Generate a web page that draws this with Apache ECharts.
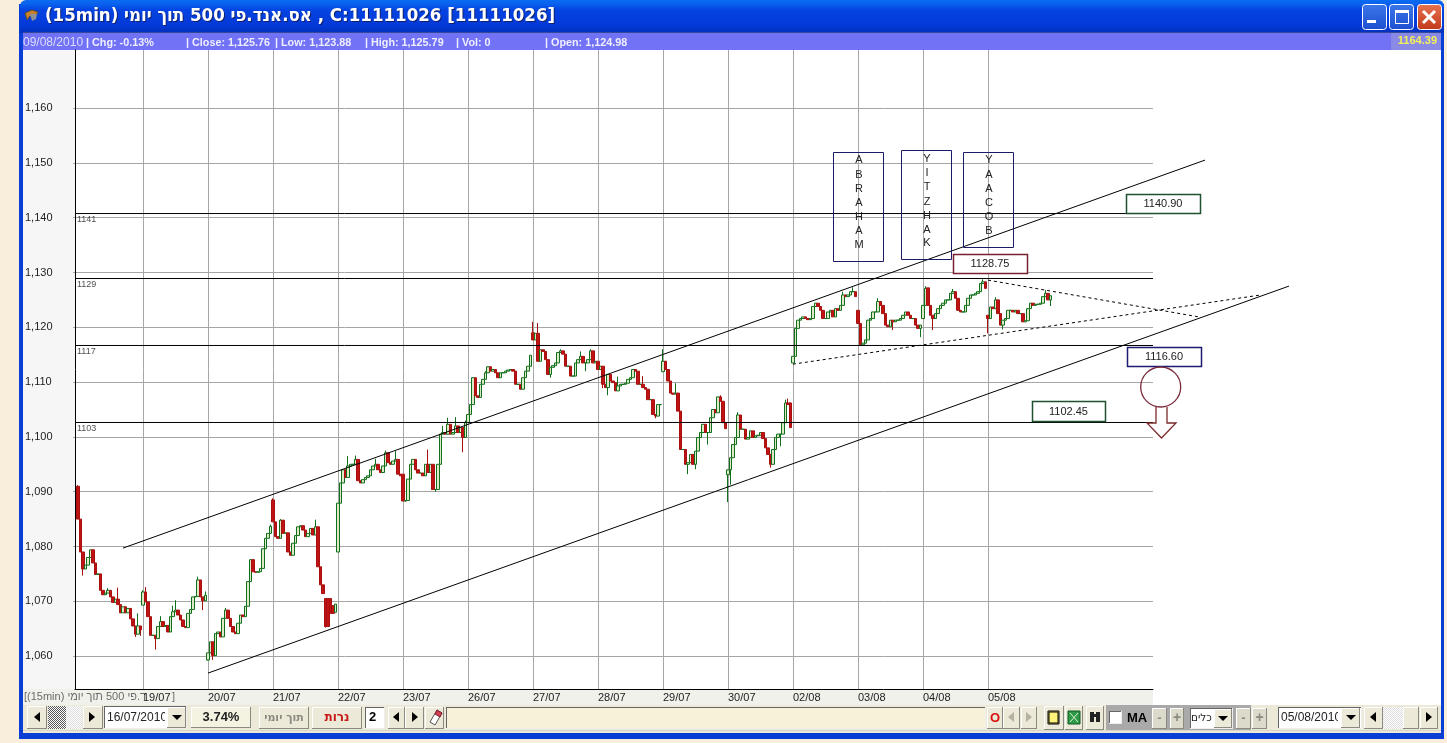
<!DOCTYPE html>
<html><head><meta charset="utf-8">
<style>html,body{margin:0;padding:0;background:#f8eedb}#c{width:1447px;height:743px}</style>
<script src="https://cdn.jsdelivr.net/npm/echarts@6/dist/echarts.min.js"></script>
</head><body><div id="c"></div>
<script>
// ---------- DATA ----------
const dayLabels = ['19/07','20/07','21/07','22/07','23/07','26/07','27/07','28/07','29/07','30/07','02/08','03/08','04/08','05/08'];
const dayTicks = [26,52,78,104,130,156,182,208,234,260,286,312,338,364];
const yTicks = [1060,1070,1080,1090,1100,1110,1120,1130,1140,1150,1160];
const yTickLabels = ['1,060','1,070','1,080','1,090','1,100','1,110','1,120','1,130','1,140','1,150','1,160'];

const closes = [
 // 16/07
 1085,1079,1075.9,1076.6,1078,1079.4,1077,1074.9,1075,1072,1071.2,1071.5,1072,1070.8,1069.8,1070.4,1069.4,1067.9,1069,1067.9,1068.7,1066.8,1065.5,1064,1065.5,1064.8,
 // 19/07
 1071.7,1069.9,1067.2,1063.8,1063.8,1063.2,1065.4,1066.3,1065.4,1065.6,1064.4,1067.2,1068.1,1068.4,1067.5,1066.6,1065.4,1065.2,1067.8,1068.5,1070.8,1070.9,1073.9,1070.8,1070.1,1071.1,
 // 20/07
 1060.6,1062.6,1060.1,1064.1,1064.4,1063.5,1066.9,1068.4,1066.9,1065.4,1064.4,1064.1,1066,1067.5,1067.2,1069.1,1073.6,1077.6,1075.4,1075.3,1075.4,1076,1079.6,1081.5,1082.4,1083.7,
 // 21/07
 1084.5,1081.8,1081.5,1084.8,1082.4,1082.5,1079,1078.4,1080.6,1082,1083.6,1083.8,1083,1081.8,1082.4,1083.3,1082.1,1083.6,1076.3,1073,1071.4,1065.4,1065.4,1067.8,1067.8,1069.5,
 // 22/07
 1087.9,1091.6,1094,1092.6,1094.7,1095,1095,1095.9,1092,1091.6,1092.2,1092.6,1092.9,1094,1094.7,1095,1094,1093.5,1094.7,1097.1,1095.3,1095,1095.6,1095.9,1093.2,1092.9,
 // 23/07
 1088.3,1088.4,1092.3,1095,1095.9,1094,1093.4,1093.4,1092.9,1095,1093.5,1095,1090.4,1090.4,1095,1100.5,1100.8,1100.5,1102.3,1100.5,1100.8,1102,1100.8,1101.7,1099.9,1102.6,
 // 26/07
 1104.1,1105.9,1110.8,1107.5,1107.2,1109.6,1110.5,1111.7,1112.8,1112,1112.3,1111.7,1110.8,1111.7,1111.7,1112,1112.2,1112.3,1112,1109.6,1109.6,1108.7,1110.8,1112,1112.9,1114.9,
 // 27/07
 1117.7,1118.9,1113.8,1115.9,1115.6,1114.1,1111.4,1112.7,1113,1113.5,1115.4,1115.7,1115.1,1112.9,1112.9,1111.1,1111.1,1113.5,1114.1,1114.7,1113.5,1113.5,1114.1,1115.7,1113.5,1113.8,
 // 28/07
 1112.3,1112.9,1109.6,1109,1111.4,1110.2,1109.9,1108.4,1109.3,1109.6,1109.6,1109.8,1110.5,1110.8,1112.3,1112,1109.6,1109.6,1109,1108.7,1106.8,1106.8,1104.1,1103.8,1105.9,1105.9,
 // 29/07
 1113.8,1112.3,1110.2,1108,1107.8,1108,1104.7,1097.7,1097.7,1095,1095.3,1096.8,1095,1097.4,1099.9,1100.8,1102.3,1100.8,1100.8,1103.5,1105,1104.4,1107.3,1106.5,1102.6,1101.5,
 // 30/07
 1094,1096.2,1098.6,1099.9,1104,1101.4,1101.4,1099.6,1099.9,1101.1,1099.9,1100.2,1100.3,1100.8,1099.7,1098,1096.8,1095,1097.7,1099.9,1100.5,1100.5,1102.6,1106.2,1105.9,1101.7,
 // 02/08
 1114.7,1119.8,1121.3,1121.6,1121.9,1121.6,1121.4,1121.6,1123.8,1124.4,1123.8,1123.1,1121.6,1121.6,1122.8,1123.1,1121.9,1123.4,1123.1,1124,1125.9,1125.6,1125.9,1126.5,1126.5,1125.6,
 // 03/08
 1120.7,1116.8,1117.1,1117.7,1121.3,1121.6,1122.8,1122.8,1124.7,1124,1122.5,1120.4,1120.1,1121.3,1121,1121.3,1121.3,1121.6,1122.2,1122.8,1122.2,1121.6,1121.6,1120.4,1119.8,1120.4,
 // 04/08
 1124,1127.1,1124,1122.2,1121.6,1122.5,1123.4,1124,1124.4,1125,1125,1126.2,1126.5,1125.3,1123.1,1122.8,1122.8,1124,1125.3,1125.9,1125.9,1126.2,1126.5,1128,1128.3,1127.1,
 // 05/08
 1121.6,1123.7,1123.4,1125,1122.5,1120.4,1121.3,1121.6,1123.1,1123.1,1122.8,1123.1,1122.5,1122.5,1121,1121.2,1123.4,1124.4,1124,1124.2,1124.2,1124.4,1125.6,1126.2,1125,1125.76
];
// opens that differ from the previous close: [bar, open]
const gapOpens = [[0,1091],[26,1069.3],[52,1059.3],[78,1088.5],[99,1070.5],[100,1070.5],[101,1070.5],[102,1069.2],[103,1068],[104,1079],[130,1093.2],[182,1119],[234,1111.9],[284,1106.2],[285,1106.2],[260,1093.1],[286,1113.5],[312,1123.1],[338,1121.6],[340,1127.2],[364,1122.2],[389,1124.98]];
// wick tips: [bar, value]
const highTips = [[0,1091.2],[12,1072.4],[16,1072.5],[24,1067.8],[26,1072],[27,1072.6],[33,1067.3],[38,1069.2],[39,1070.2],[48,1074.5],[51,1071.8],[59,1068.8],[77,1084],[78,1088.8],[81,1085],[95,1084.9],[108,1096.5],[111,1096.6],[119,1096],[123,1097.5],[127,1097.4],[140,1097.7],[146,1102],[148,1103.5],[151,1103.6],[155,1103],[163,1112],[182,1121],[184,1120.8],[193,1116],[201,1115.6],[205,1116],[216,1111],[226,1111.1],[234,1116],[239,1109.8],[257,1107.6],[264,1104.5],[283,1106.8],[284,1107],[306,1126.5],[310,1127.3],[320,1125.3],[339,1127.5],[350,1127],[362,1128.75],[367,1125.5],[387,1126.8],[389,1125.79]];
const lowTips = [[2,1074.7],[23,1063.5],[25,1063.7],[31,1061.2],[50,1068.4],[52,1059.2],[54,1059.3],[99,1065.2],[131,1088.2],[143,1090],[154,1097.2],[189,1110.8],[203,1112],[210,1108.9],[212,1107.6],[231,1103.4],[244,1093.2],[247,1094.1],[252,1098.6],[260,1088.1],[261,1091.3],[277,1094.4],[281,1098.3],[313,1116.6],[326,1119.5],[337,1118.2],[342,1119.5],[364,1118.9],[370,1119.6],[389,1123.88]];

const upperChannel = [[18,1079.71],[450.8,1150.51]];
const lowerChannel = [[52,1056.9],[484.4,1127.52]];
const triangleLow = [[286,1113.28],[472.8,1125.88]];
const triangleHigh = [[364,1128.61],[448.8,1121.86]];
const levels = [1140.76,1128.9,1116.68,1102.63];
const levelNames = ['1141','1129','1117','1103'];
const xMin = -1.2, xMax = 430, xMaxTrend = 484.8, yMin = 1054, yMax = 1170.6;

// ---------- candles ----------
const gapMap = new Map(gapOpens), hiMap = new Map(highTips), loMap = new Map(lowTips);
const candles = closes.map((c,i)=>{
  const o = gapMap.has(i) ? gapMap.get(i) : closes[i-1];
  const h = hiMap.has(i) ? hiMap.get(i) : Math.max(o,c);
  const l = loMap.has(i) ? loMap.get(i) : Math.min(o,c);
  return [i,o,c,l,h];
});

// ---------- window furniture ----------
const FONT='"Liberation Sans",Arial,sans-serif';
const g=[];
const rect=(x,y,w,h,fill,stroke,z,r)=>g.push({type:'rect',silent:true,z:z??-1,shape:{x,y,width:w,height:h,r:r||0},style:{fill:fill||'none',stroke:stroke||null,lineWidth:1}});
const line=(x1,y1,x2,y2,c,z,lw)=>g.push({type:'line',silent:true,z:z??-1,shape:{x1,y1,x2,y2},style:{stroke:c,lineWidth:lw||1}});
const text=(x,y,t,fill,font,align,z)=>g.push({type:'text',silent:true,z:z??-1,x,y,style:{text:t,fill,font,align:align||'left',verticalAlign:'middle'}});
const poly=(pts,fill,stroke,z)=>g.push({type:'polygon',silent:true,z:z??-1,shape:{points:pts},style:{fill:fill||'none',stroke:stroke||null,lineWidth:1}});
const pline=(pts,stroke,z,lw)=>g.push({type:'polyline',silent:true,z:z??-1,shape:{points:pts},style:{fill:'none',stroke,lineWidth:lw||1}});
const btn=(x,y,w,h,fill)=>{rect(x,y,w,h,fill||'#ece9d8');line(x+.5,y+.5,x+w,y+.5,'#fff');line(x+.5,y+.5,x+.5,y+h,'#fff');line(x,y+h-.5,x+w,y+h-.5,'#8a8a80');line(x+w-.5,y,x+w-.5,y+h,'#8a8a80');};
const sunk=(x,y,w,h,fill)=>{rect(x,y,w,h,fill||'#fff');line(x,y+.5,x+w,y+.5,'#666');line(x+.5,y,x+.5,y+h,'#666');line(x,y+h-.5,x+w,y+h-.5,'#eee');line(x+w-.5,y,x+w-.5,y+h,'#eee');};
const tri=(cx,cy,dir,c)=>poly(dir<0?[[cx+3,cy-5],[cx+3,cy+5],[cx-3,cy]]:[[cx-3,cy-5],[cx-3,cy+5],[cx+3,cy]],c||'#000');
const LG=(stops)=>new echarts.graphic.LinearGradient(0,0,0,1,stops.map(([offset,color])=>({offset,color})));
const chk=document.createElement('canvas');chk.width=chk.height=2;{const k=chk.getContext('2d');k.fillStyle='#fff';k.fillRect(0,0,2,2);k.fillStyle='#555';k.fillRect(0,0,1,1);k.fillRect(1,1,1,1);}
const chkL=document.createElement('canvas');chkL.width=chkL.height=2;{const k=chkL.getContext('2d');k.fillStyle='#fff';k.fillRect(0,0,2,2);k.fillStyle='#ddd';k.fillRect(0,0,1,1);k.fillRect(1,1,1,1);}
const pat=c=>({image:c,repeat:'repeat'});

// frame
rect(19,4,1425,735,'#0a3fd6');
g.push({type:'rect',silent:true,z:-1,shape:{x:20,y:0,width:1424,height:33,r:[6,6,0,0]},style:{fill:LG([[0,'#0a6cf2'],[.12,'#0a62ee'],[.3,'#0444e2'],[.8,'#0338d6'],[1,'#0230b8']])}});
rect(23,32,1418,1,'#334a9a');
// info bar
rect(23,33,1418,17,'#7272f6');
rect(1391,33,50,17,'#8a8ae6');
text(1437,41,'1164.39','#f4f05a','bold 11px '+FONT,'right');
const info=[[23,'09/08/2010',false],[86,'| Chg: -0.13%',true],[186,'| Close: 1,125.76',true],[275,'| Low: 1,123.88',true],[365,'| High: 1,125.79',true],[456,'| Vol: 0',true],[545,'| Open: 1,124.98',true]];
info.forEach(([x,t,b])=>text(x,43,t,b?'#eeeeff':'#dcdcff',(b?'bold 10.8px ':'12px ')+FONT));
// title
const titleText='(15min) אס.אנד.פי 500 תוך יומי , C:11111026 [11111026]';
g.push({type:'text',silent:true,z:-1,x:46,y:17,scaleX:.925,style:{text:titleText,fill:'#10206a',font:'bold 18px "DejaVu Sans",sans-serif',align:'left',verticalAlign:'middle'}});
g.push({type:'text',silent:true,z:-1,x:45,y:16,scaleX:.925,style:{text:titleText,fill:'#ffffff',font:'bold 18px "DejaVu Sans",sans-serif',align:'left',verticalAlign:'middle'}});
// app icon
poly([[25,13],[32,10],[38,12],[35,17],[30,16],[27,20]],'#c8802a','#5a4a30');
poly([[30,14],[37,14],[36,19],[32,21]],'#8a8f98');
// window buttons
const wb=(x,c1,c2)=>g.push({type:'rect',silent:true,z:-1,shape:{x:x+.5,y:4.5,width:24,height:25,r:3},style:{fill:LG([[0,c1],[1,c2]]),stroke:'#fff',lineWidth:1}});
wb(1362,'#3d78ea','#1c4fd0');wb(1389,'#3d78ea','#1c4fd0');wb(1417,'#e8744f','#c0381a');
rect(1367,20,9,3,'#fff');
rect(1395.5,10.5,13,13,null,'#fff');rect(1395,10,14,3,'#fff');
line(1423,11,1435,23,'#fff',-1,3);line(1435,11,1423,23,'#fff',-1,3);
// chart panels
rect(23,50,1418,655,'#ffffff');
rect(23,50,52,639,'#f6f6f6');
rect(23,689,1130,16,'#f1f1ec');
// bottom-left caption
text(24,697,'[(15min) ד.פי 500 תוך יומי','#6a6a6a','11px '+FONT);
text(172,697,']','#6a6a6a','11px '+FONT);
// toolbar
rect(23,705,1418,28,'#ece9d8');
line(23,730.5,1441,730.5,'#d8d5c4');
btn(27,706,20,23);tri(37,717,-1);
rect(48,706,18,23,pat(chk));
rect(66,706,16,23,pat(chkL));
btn(83,706,20,23);tri(92,717,1);
sunk(104,706,83,23);text(107,718,'16/07/2010','#222','12px '+FONT);rect(165,707,3,21,'#fff');
btn(167,707,19,21);poly([[172,715],[182,715],[177,720]],'#000');
btn(191,707,60,21,'#f4f2e0');text(221,717,'3.74%','#222','bold 13px '+FONT,'center');
btn(259,707,50,22);text(284,718,'תוך יומי','#8a8a80','bold 11px "DejaVu Sans",sans-serif','center');
btn(312,707,50,22);text(337,718,'נרות','#c81818','bold 12px "DejaVu Sans",sans-serif','center');
sunk(365,707,20,22);text(369,717,'2','#000','bold 13px '+FONT);
btn(388,707,17,22);tri(396,717,-1);
btn(405,707,19,22);tri(415,717,1);
btn(425,707,19,22);poly([[430,722],[437,710],[442,713],[435,725]],'#fff','#555');poly([[437,710],[442,713],[440,717],[435,714]],'#d04050','#802030');
sunk(446,707,540,22,'#f6f1d8');
btn(987,707,16,22);text(995,718,'O','#d81010','bold 13px '+FONT,'center');
btn(1003,707,17,22);tri(1011,717,-1,'#b5b2a2');
btn(1021,707,16,22);tri(1029,717,1,'#b5b2a2');
btn(1044,706,20,24);rect(1048,711,11,13,'#fff27a','#000');rect(1049,712,9,11,null,'#000');
btn(1065,706,18,24);rect(1068,711,12,13,'#2c9a48','#145a25');line(1070,713,1078,722,'#dff0d0');line(1078,713,1070,722,'#dff0d0');
btn(1086,706,18,24);rect(1090,712,4,10,'#222');rect(1096,712,4,10,'#222');rect(1092,714,6,3,'#222');
rect(1106,705,145,25,'#a9a9a9');
sunk(1109,711,13,13);text(1127,718,'MA','#000','bold 13px '+FONT);
btn(1152,708,15,21,'#dcdacb');text(1159.5,718,'-','#8a8a80','bold 13px '+FONT,'center');
btn(1170,708,14,21,'#dcdacb');text(1177,718,'+','#8a8a80','bold 14px '+FONT,'center');
sunk(1190,708,43,21);text(1191,718,'כלים','#222','10.5px "DejaVu Sans",sans-serif');
btn(1214,709,18,19);poly([[1218,716],[1228,716],[1223,721]],'#000');
btn(1236,708,15,21,'#dcdacb');text(1243.5,718,'-','#8a8a80','bold 13px '+FONT,'center');
btn(1252,708,15,21,'#dcdacb');text(1259.5,718,'+','#8a8a80','bold 14px '+FONT,'center');
sunk(1278,707,84,22);text(1281,718,'05/08/2010','#222','12px '+FONT);rect(1338,708,3,20,'#fff');
btn(1341,708,19,20);poly([[1346,715],[1356,715],[1351,720]],'#000');
btn(1364,707,19,22);tri(1373,717,-1);
rect(1383,707,20,22,pat(chkL));
btn(1403,707,16,22);
btn(1420,707,18,22);tri(1429,717,1);

// annotations drawn over the chart
const boxT='#222';
const vBox=(x,y,w,h,letters,ys,cx)=>{rect(x+.5,y+.5,w,h,null,'#1a1a66',40);letters.split('').forEach((c,i)=>text(cx,ys[i],c,boxT,'11px '+FONT,'center',41));};
vBox(833,152,50,109,'ABRAHAM',[160,175,189,203,217,231,245],859);
vBox(901,150,50,109,'YITZHAK',[159,173,187,202,216,230,243],927);
vBox(963,152,50,95,'YAACOB',[160,175,189,203,217,231],989);
const vLab=(x,y,w,h,c,t)=>{rect(x+.5,y+.5,w,h,'#fff',c,42);g[g.length-1].style.lineWidth=1.5;text(x+w/2,y+h/2+.5,t,'#222','11px '+FONT,'center',43);};
vLab(953,254,74,19,'#7a2030','1128.75');
vLab(1126,194,74,19,'#1f5030','1140.90');
vLab(1127,347,74,19,'#1c1c70','1116.60');
vLab(1032,401,73,20,'#1f5030','1102.45');
g.push({type:'circle',silent:true,z:44,shape:{cx:1160.7,cy:387,r:20},style:{fill:'none',stroke:'#7a2a3a',lineWidth:1.3}});
pline([[1156,407],[1156,423],[1147,423],[1161.5,438],[1176,423],[1167,423],[1167,407]],'#7a2a2a',44,1.3);

// ---------- chart ----------
const lineSeries=(name,data,dashed,trend)=>({name,type:'line',data,symbol:'none',silent:true,z:4,animation:false,
  xAxisIndex:trend?1:0,yAxisIndex:trend?1:0,
  lineStyle:{color:'#000',width:1,type:dashed?[3,3]:'solid'}});
const option={
  animation:false,backgroundColor:'#f8eedb',
  grid:[{left:75,top:50,width:1078,height:639,show:false},{left:75,top:50,width:1215,height:639,show:false}],
  xAxis:[{type:'value',min:xMin,max:xMax,
    axisLine:{onZero:false,show:true,lineStyle:{color:'#000',width:1}},
    axisTick:{show:false,customValues:dayTicks},
    axisLabel:{customValues:dayTicks,margin:3,align:'left',verticalAlign:'top',color:'#222',fontFamily:FONT,fontSize:11,
      showMinLabel:true,showMaxLabel:true,hideOverlap:false,
      formatter:(v)=>dayLabels[dayTicks.indexOf(v)]||''},
    splitLine:{show:true,lineStyle:{color:'#a6a6a6',width:1}}},
    {type:'value',gridIndex:1,min:xMin,max:xMaxTrend,show:false,splitLine:{show:false}}],
  yAxis:[{type:'value',min:yMin,max:yMax,
    axisLine:{onZero:false,show:true,lineStyle:{color:'#000',width:1}},
    axisTick:{show:true,length:2,customValues:yTicks,lineStyle:{color:'#a6a6a6'}},
    axisLabel:{customValues:yTicks,margin:50,align:'left',padding:[2,0,0,0],color:'#222',fontFamily:FONT,fontSize:11,
      formatter:(v)=>yTickLabels[yTicks.indexOf(v)]||''},
    splitLine:{show:true,lineStyle:{color:'#a6a6a6',width:1}}},
    {type:'value',gridIndex:1,min:yMin,max:yMax,show:false,splitLine:{show:false}}],
  series:[
    {type:'candlestick',data:candles,encode:{x:0,y:[1,2,3,4]},barWidth:2.6,z:3,silent:true,animation:false,large:false,progressive:0,
      itemStyle:{color:'#dfe8c8',color0:'#c01414',borderColor:'#0f6f1a',borderColor0:'#a81010',borderWidth:1}},
    lineSeries('upper',upperChannel,false,true),lineSeries('lower',lowerChannel,false,true),
    lineSeries('triLow',triangleLow,true,true),lineSeries('triHigh',triangleHigh,true,true),
    ...levels.map((v,i)=>lineSeries('level'+levelNames[i],[[xMin,v],[xMax,v]])),
    {type:'scatter',silent:true,symbolSize:0,z:5,animation:false,clip:false,
      data:levels.map((v,i)=>[xMin,v,levelNames[i]]),
      label:{show:true,position:'right',offset:[0,6],distance:2,color:'#222',fontFamily:FONT,fontSize:9,formatter:p=>p.value[2]}}
  ],
  graphic:g
};
const chart=echarts.init(document.getElementById('c'),null,{renderer:'canvas'});
chart.setOption(option);
</script></body></html>
